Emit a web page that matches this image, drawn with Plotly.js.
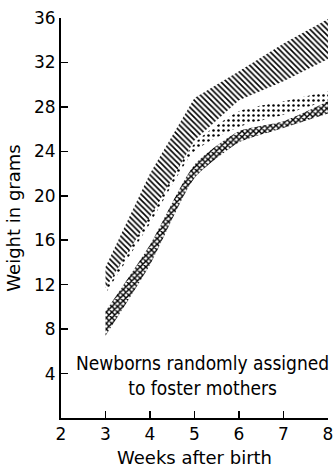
<!DOCTYPE html>
<html>
<head>
<meta charset="utf-8">
<script src="https://cdn.plot.ly/plotly-3.0.1.min.js"></script>
<style>
  html, body { margin: 0; padding: 0; background: #fff; }
  #chart { width: 334px; height: 470px; }
</style>
</head>
<body>
<div id="chart"></div>
<script>
// Weeks after birth
const weeks = [3, 4, 5, 6, 7, 8];

// Top band (diagonal hatching)
const topLower = [11.7, 18.1, 25.0, 28.6, 30.3, 32.3];
const topUpper = [13.6, 22.0, 28.8, 31.2, 33.7, 35.9];

// Middle band (dotted)
const midLower = [11.2, 17.5, 24.0, 26.2, 27.3, 28.6];
const midUpper = [11.7, 18.2, 24.7, 27.6, 28.5, 29.4];

// Bottom band (cross-hatched)
const botLower = [7.4, 13.8, 21.6, 24.8, 26.1, 27.4];
const botUpper = [9.6, 15.6, 22.8, 25.8, 26.7, 28.5];

const xTicks = [2, 3, 4, 5, 6, 7, 8];
const yTicks = [4, 8, 12, 16, 20, 24, 28, 32, 36];

const annotationText = "Newborns randomly assigned<br>to foster mothers";

function band(lower, upper, shape, size, solidity, smooth) {
  const ln = smooth ? { width: 0, color: 'rgba(0,0,0,0)', shape: 'spline', smoothing: 0.6 }
                    : { width: 0, color: 'rgba(0,0,0,0)' };
  return [
    { x: weeks, y: lower, mode: 'lines', line: ln, hoverinfo: 'skip', showlegend: false },
    { x: weeks, y: upper, mode: 'lines', line: ln,
      fill: 'tonexty', fillcolor: 'rgba(0,0,0,0)',
      fillpattern: { shape: shape, size: size, solidity: solidity, fgcolor: '#000',
                     bgcolor: 'rgba(255,255,255,0)', fillmode: 'replace' },
      hoverinfo: 'skip', showlegend: false }
  ];
}

const data = [].concat(
  band(midLower, midUpper, '.', 5, 0.2, true),
  band(topLower, topUpper, '\\', 4, 0.4, false),
  band(botLower, botUpper, 'x', 4, 0.6, true)
);

const tickFont = { family: 'DejaVu Sans', size: 17, color: '#000' };

const layout = {
  width: 334, height: 470,
  margin: { l: 61, r: 6, t: 18, b: 52 },
  paper_bgcolor: '#fff', plot_bgcolor: '#fff',
  showlegend: false,
  xaxis: {
    range: [2, 8], tickvals: xTicks, ticktext: xTicks.map(String),
    ticks: 'inside', ticklen: 7, tickwidth: 1.5, tickcolor: '#000',
    showline: true, linecolor: '#000', linewidth: 2,
    showgrid: false, zeroline: false, tickfont: tickFont,
    title: { text: 'Weeks after birth', font: { family: 'DejaVu Sans', size: 18, color: '#000' }, standoff: 8 },
    fixedrange: true
  },
  yaxis: {
    range: [0, 36], tickvals: yTicks, ticktext: yTicks.map(String),
    ticks: 'inside', ticklen: 7, tickwidth: 1.5, tickcolor: '#000',
    showline: true, linecolor: '#000', linewidth: 2,
    showgrid: false, zeroline: false, tickfont: tickFont,
    title: { text: 'Weight in grams', font: { family: 'DejaVu Sans', size: 18, color: '#000' }, standoff: 9 },
    fixedrange: true
  },
  annotations: [{
    xref: 'paper', yref: 'y', x: 0.53, y: 3.8,
    xanchor: 'center', yanchor: 'middle', showarrow: false,
    text: annotationText, align: 'center',
    font: { family: 'DejaVu Sans Condensed', size: 19, color: '#000' }
  }]
};

Plotly.newPlot('chart', data, layout, { displayModeBar: false, staticPlot: true });
</script>
</body>
</html>
